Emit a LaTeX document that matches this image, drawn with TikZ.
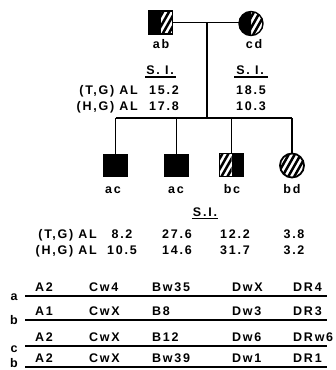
\documentclass[tikz,border=0pt]{standalone}
\usepackage{fontspec}
\setmainfont{Liberation Sans}[LetterSpace=14]
\usetikzlibrary{positioning}

\tikzset{
  male/.style={minimum width=24.5pt, minimum height=23pt, inner sep=0pt, outer sep=0pt},
  female/.style={circle, minimum size=24pt, inner sep=0pt, outer sep=0pt},
  outl/.style={line width=1.4pt},
  kin/.style={line width=1.4pt},
  hatch/.style={line width=2.5pt},
  lab/.style={font=\bfseries\fontsize{12.5}{14}\selectfont, inner sep=0pt, anchor=base},
  rule/.style={line width=1.4pt},
  hapline/.style={line width=2pt}
}
\newcommand{\stripes}[1]{\foreach \k in {-30,-24,...,30} \draw[hatch] ([xshift=\k pt, yshift=-15pt]#1) -- ++(17,-30);}

\begin{document}
\begin{tikzpicture}[x=1pt, y=-1pt]
\useasboundingbox (0,0) rectangle (336,370);
% Parents
\node[male] (fa) at (160.5,22.5) {};
\fill (fa.north west) rectangle (fa.south);
\begin{scope}
  \clip (fa.north) rectangle (fa.south east);
  \stripes{fa.center}
\end{scope}
\draw[outl] (fa.north west) rectangle (fa.south east);
\node[female] (mo) at (251,23.5) {};
\begin{scope}
  \clip (mo.west |- mo.north) rectangle (mo.south);
  \fill (mo.center) circle (12);
\end{scope}
\begin{scope}
  \clip (mo.center) circle (12);
  \clip (mo.north) rectangle (mo.east |- mo.south);
  \stripes{mo.center}
\end{scope}
\draw[outl] (mo.center) circle (12);
\node[lab] (t-ab) at (161,48) {ab};
\node[lab] (t-cd) at (254,48) {cd};
% Lines of descent
\coordinate (mate) at (207,22.5);
\coordinate (sib) at (207,118);
\draw[kin] (fa.east) -- (fa.east -| mo.west);
\draw[kin] (mate) -- (sib);
% Children
\node[male] (c1) at (115.5,165) {};
\node[male] (c2) at (176.5,165) {};
\node[male] (c3) at (231.5,165) {};
\node[female] (c4) at (292,165.5) {};
\draw[kin] (c1.north |- sib) -- (c4.north |- sib);
\foreach \c in {c1,c2,c3,c4}
  \draw[kin] (\c.north |- sib) -- (\c.north);
\fill (c1.north west) rectangle (c1.south east);
\fill (c2.north west) rectangle (c2.south east);
\begin{scope}
  \clip (c3.north west) rectangle (c3.south);
  \stripes{c3.center}
\end{scope}
\fill (c3.north) rectangle (c3.south east);
\draw[outl] (c3.north west) rectangle (c3.south east);
\begin{scope}
  \clip (c4.center) circle (12);
  \stripes{c4.center}
\end{scope}
\draw[line width=1.8pt] (c4.center) circle (12);
\node[lab] (t-c1) at (113,193) {ac};
\node[lab] (t-c2) at (176,193) {ac};
\node[lab] (t-c3) at (232,193) {bc};
\node[lab] (t-c4) at (292,193) {bd};
% Stimulation indices, parents
\node[lab] (si-fa) at (160,74) {S. I.};
\node[lab] (si-mo) at (250,74) {S. I.};
\draw[rule] ([xshift=-1pt, yshift=-3pt]si-fa.base west) -- ([xshift=2pt, yshift=-3pt]si-fa.base east);
\draw[rule] ([xshift=-2pt, yshift=-3pt]si-mo.base west) -- ([xshift=4pt, yshift=-3pt]si-mo.base east);
\node[lab, anchor=base east] (tg-p) at (138,94) {(T,G) AL};
\node[lab, anchor=base east] (hg-p) at (138,110) {(H,G) AL};
\node[lab] (tg-fa) at (164,94) {15.2};
\node[lab] (hg-fa) at (164,110) {17.8};
\node[lab] (tg-mo) at (251,94) {18.5};
\node[lab] (hg-mo) at (251,110) {10.3};
% Stimulation indices, children
\node[lab] (si-ch) at (205,216) {S.I.};
\draw[rule] ([xshift=-1pt, yshift=-2.5pt]si-ch.base west) -- ([xshift=1pt, yshift=-2.5pt]si-ch.base east);
\node[lab, anchor=base east] (tg-ch) at (97,238) {(T,G) AL};
\node[lab, anchor=base east] (hg-ch) at (97,254) {(H,G) AL};
\foreach \x/\v/\w [count=\i] in {122/8.2/10.5, 177/27.6/14.6, 235/12.2/31.7, 294/3.8/3.2} {
  \node[lab] (tg-\i) at (\x,238) {\v};
  \node[lab] (hg-\i) at (\x,254) {\w};
}
% Haplotypes
\foreach \h/\y/\yh/\ca/\cb/\cc/\cd/\ce [count=\i] in {a/296/300/A2/Cw4/Bw35/DwX/DR4, b/320/324/A1/CwX/B8/Dw3/DR3, c/346/352/A2/CwX/B12/Dw6/DRw6, b/367/367/A2/CwX/Bw39/Dw1/DR1} {
  \node[lab] (hap-\i) at (14,\yh) {\h};
  \draw[hapline] (25,\y) -- (327,\y);
  \node[lab, anchor=base west] (hla-\i-1) at (35,\y-4.5) {\ca};
  \node[lab, anchor=base west] (hla-\i-2) at (89,\y-4.5) {\cb};
  \node[lab, anchor=base west] (hla-\i-3) at (152,\y-4.5) {\cc};
  \node[lab, anchor=base west] (hla-\i-4) at (232,\y-4.5) {\cd};
  \node[lab, anchor=base west] (hla-\i-5) at (293,\y-4.5) {\ce};
}
\end{tikzpicture}
\end{document}
